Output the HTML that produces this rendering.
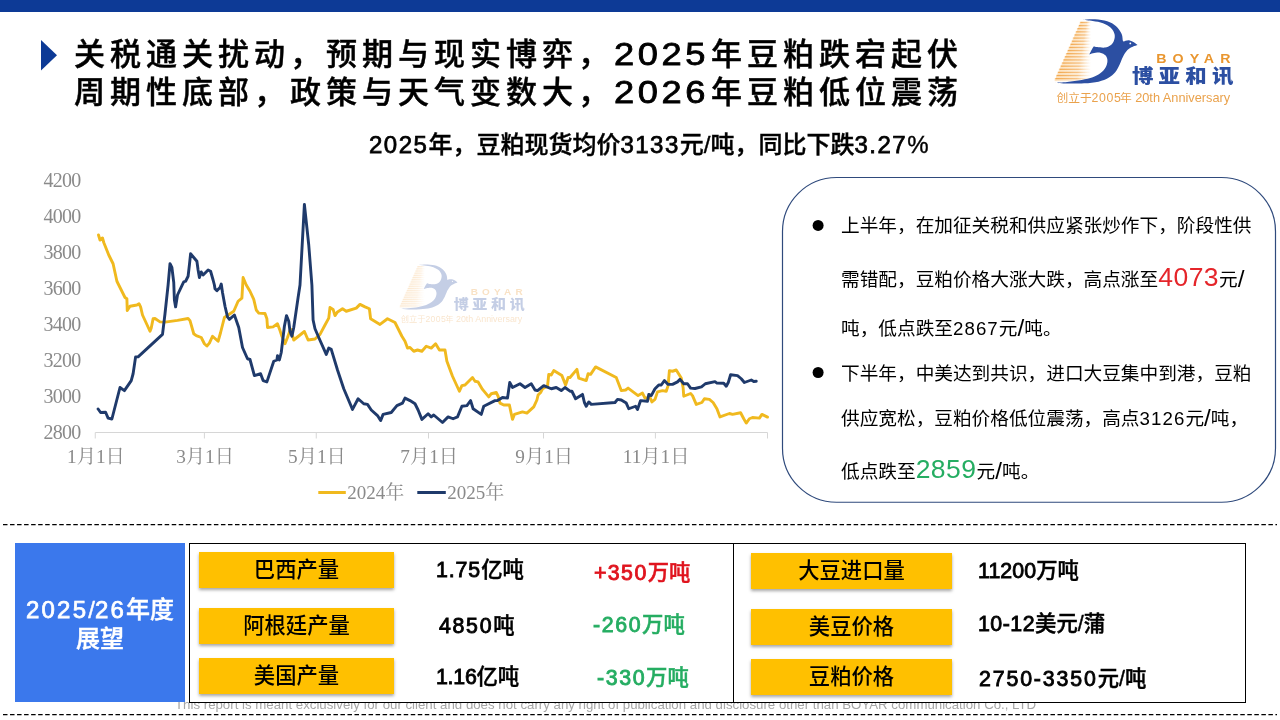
<!DOCTYPE html>
<html lang="zh-CN">
<head>
<meta charset="utf-8">
<title>豆粕</title>
<style>
html,body{margin:0;padding:0;}
body{width:1280px;height:720px;position:relative;overflow:hidden;background:#fff;
 font-family:"Liberation Sans","Noto Sans CJK SC",sans-serif;color:#000;}
.abs{position:absolute;white-space:nowrap;will-change:transform;}
#topbar{left:0;top:0;width:1280px;height:12px;background:#0d3a96;}
.title{left:74px;font-size:31px;font-weight:500;-webkit-text-stroke:.45px #000;letter-spacing:5px;line-height:38px;height:38px;}
.title .n{display:inline-block;transform:scaleX(1.17);transform-origin:0 50%;letter-spacing:3.05px;margin-right:15.8px;-webkit-text-stroke:.8px #000;}
#sub{left:369px;top:128px;font-size:24px;font-weight:500;-webkit-text-stroke:.4px #000;line-height:34px;}
#sub .n{letter-spacing:1.5px;-webkit-text-stroke:.75px #000;}
svg{position:absolute;left:0;top:0;will-change:transform;}
.bt{left:840.8px;font-size:18.67px;line-height:30px;height:30px;}
.bt .n{letter-spacing:1.1px;}
.bt .sl{font-size:1.3em;line-height:0;position:relative;top:1px;}
.bt .big{font-size:26.5px;letter-spacing:.5px;line-height:30px;}
.lab{width:195px;height:36px;background:#ffc000;box-shadow:0 2px 3px rgba(0,0,0,.35);
 text-align:center;font-size:21.33px;font-weight:500;line-height:37px;}
.val{font-size:21.33px;font-weight:500;-webkit-text-stroke:.45px currentColor;line-height:30px;height:30px;}
.val .n{letter-spacing:.9px;-webkit-text-stroke:.85px currentColor;}
#foot{left:175px;top:698px;font-size:13.25px;color:#a6a6a6;line-height:14px;}
#bluebox{left:15px;top:543px;width:170px;height:159px;background:#3b78ec;color:#fff;
 text-align:center;font-size:24px;font-weight:500;line-height:29px;-webkit-text-stroke:.4px #fff;}
#bluebox .n{letter-spacing:2.2px;-webkit-text-stroke:.75px #fff;}
.frame{background:#fff;border:1px solid #000;box-sizing:border-box;}
</style>
</head>
<body>
<div class="abs" id="topbar"></div>
<div class="abs title" style="top:36px">关税通关扰动，预期与现实博弈，<span class="n">2025</span>年豆粕跌宕起伏</div>
<div class="abs title" style="top:74px">周期性底部，政策与天气变数大，<span class="n">2026</span>年豆粕低位震荡</div>
<div class="abs" id="sub"><span class="n">2025</span>年，豆粕现货均价<span class="n">3133</span>元/吨，同比下跌<span class="n">3.27</span>%</div>

<div class="abs" id="foot">This report is meant exclusively for our client and does not carry any right of publication and disclosure other than BOYAR communication Co., LTD</div>
<div class="abs" id="bluebox"><div style="margin-top:52px"><span class="n">2025</span>/<span class="n">26</span>年度<br>展望</div></div>
<div class="abs frame" style="left:189.1px;top:542.8px;width:544.8px;height:160px"></div>
<div class="abs frame" style="left:732.9px;top:542.8px;width:513.35px;height:160px"></div>

<div class="abs lab" style="left:199px;top:552px">巴西产量</div>
<div class="abs lab" style="left:199px;top:608px">阿根廷产量</div>
<div class="abs lab" style="left:199px;top:658px">美国产量</div>
<div class="abs lab" style="left:751px;top:553px;width:201px">大豆进口量</div>
<div class="abs lab" style="left:751px;top:609px;width:201px">美豆价格</div>
<div class="abs lab" style="left:751px;top:659px;width:201px">豆粕价格</div>

<div class="abs val" style="left:436px;top:554.5px"><span class="n">1.75</span>亿吨</div>
<div class="abs val" style="left:439px;top:611px"><span class="n" style="letter-spacing:1.7px">4850</span>吨</div>
<div class="abs val" style="left:436px;top:662px"><span class="n" style="letter-spacing:-.25px">1.16</span>亿吨</div>
<div class="abs val" style="left:593.5px;top:557.5px;color:#e0141e"><span class="n" style="letter-spacing:1.4px">+350</span>万吨</div>
<div class="abs val" style="left:593px;top:609.5px;color:#25ad62"><span class="n" style="letter-spacing:1.6px">-260</span>万吨</div>
<div class="abs val" style="left:596.5px;top:662.5px;color:#25ad62"><span class="n" style="letter-spacing:1.6px">-330</span>万吨</div>
<div class="abs val" style="left:978px;top:556px"><span class="n" style="letter-spacing:.1px">11200</span>万吨</div>
<div class="abs val" style="left:978px;top:608.5px"><span class="n" style="letter-spacing:.5px">10-12</span>美元/蒲</div>
<div class="abs val" style="left:978.5px;top:664px"><span class="n" style="letter-spacing:1.85px">2750-3350</span>元/吨</div>

<div class="abs bt" style="top:211px">上半年，在加征关税和供应紧张炒作下，阶段性供</div>
<div class="abs bt" style="top:262px">需错配，豆粕价格大涨大跌，高点涨至<span class="n big" style="color:#e5252a">4073</span>元<span class="sl">/</span></div>
<div class="abs bt" style="top:313.5px">吨，低点跌至<span class="n">2867</span>元<span class="sl">/</span>吨。</div>
<div class="abs bt" style="top:359px">下半年，中美达到共识，进口大豆集中到港，豆粕</div>
<div class="abs bt" style="top:403.6px">供应宽松，豆粕价格低位震荡，高点<span class="n">3126</span>元<span class="sl">/</span>吨，</div>
<div class="abs bt" style="top:454px">低点跌至<span class="n big" style="color:#25ad62">2859</span>元<span class="sl">/</span>吨。</div>

<svg width="1280" height="720" viewBox="0 0 1280 720">
<polygon points="41,40 57,55.3 41,70.6" fill="#0d3a96"/>
<g stroke="#d6d6d6" stroke-width="1" fill="none">
<path d="M95.25 432.5H767.5"/>
<path d="M95.25 432.5V438.5"/>
<path d="M204.4 432.5V438.5"/>
<path d="M316.25 432.5V438.5"/>
<path d="M428.5 432.5V438.5"/>
<path d="M543.5 432.5V438.5"/>
<path d="M655.4 432.5V438.5"/>
<path d="M767.5 432.5V438.5"/>
</g>
<g font-family="'Liberation Serif','Noto Serif CJK SC',serif" font-size="20" fill="#8a8a8a" letter-spacing="-0.7">
<text x="80.6" y="187.0" text-anchor="end">4200</text>
<text x="80.6" y="223.0" text-anchor="end">4000</text>
<text x="80.6" y="259.0" text-anchor="end">3800</text>
<text x="80.6" y="295.0" text-anchor="end">3600</text>
<text x="80.6" y="331.0" text-anchor="end">3400</text>
<text x="80.6" y="367.0" text-anchor="end">3200</text>
<text x="80.6" y="403.0" text-anchor="end">3000</text>
<text x="80.6" y="439.0" text-anchor="end">2800</text>
</g>
<g font-family="'Liberation Serif','Noto Serif CJK SC',serif" font-size="19.3" fill="#8a8a8a" text-anchor="middle">
<text x="95.95" y="463">1月1日</text>
<text x="205.1" y="463">3月1日</text>
<text x="316.95" y="463">5月1日</text>
<text x="429.2" y="463">7月1日</text>
<text x="544.2" y="463">9月1日</text>
<text x="656.1" y="463">11月1日</text>
</g>
<path d="M318.3 492.5H345.8" stroke="#f0b91e" stroke-width="3"/>
<path d="M417.3 492.5H445.8" stroke="#1f3a6b" stroke-width="3"/>
<g font-family="'Liberation Serif','Noto Serif CJK SC',serif" font-size="19" fill="#8a8a8a">
<text x="347.3" y="498.5">2024年</text><text x="447.3" y="498.5">2025年</text>
</g>
<g transform="translate(-338.7 250.9) scale(0.7)" opacity=".28">
<rect x="1079.7" y="21.80" width="11.3" height="3.15" fill="url(#sg2)"/>
<rect x="1080.4" y="21.80" width="10.6" height="1.35" fill="url(#sg)"/>
<rect x="1078.3" y="24.92" width="12.7" height="3.15" fill="url(#sg2)"/>
<rect x="1079.0" y="24.92" width="12.0" height="1.35" fill="url(#sg)"/>
<rect x="1076.9" y="28.04" width="14.1" height="3.15" fill="url(#sg2)"/>
<rect x="1077.6" y="28.04" width="13.4" height="1.35" fill="url(#sg)"/>
<rect x="1075.5" y="31.16" width="15.5" height="3.15" fill="url(#sg2)"/>
<rect x="1076.2" y="31.16" width="14.8" height="1.35" fill="url(#sg)"/>
<rect x="1074.1" y="34.28" width="16.9" height="3.15" fill="url(#sg2)"/>
<rect x="1074.8" y="34.28" width="16.2" height="1.35" fill="url(#sg)"/>
<rect x="1072.7" y="37.40" width="18.3" height="3.15" fill="url(#sg2)"/>
<rect x="1073.4" y="37.40" width="17.6" height="1.35" fill="url(#sg)"/>
<rect x="1071.4" y="40.52" width="19.6" height="3.15" fill="url(#sg2)"/>
<rect x="1072.1" y="40.52" width="18.9" height="1.35" fill="url(#sg)"/>
<rect x="1070.0" y="43.64" width="21.0" height="3.15" fill="url(#sg2)"/>
<rect x="1070.7" y="43.64" width="20.3" height="1.35" fill="url(#sg)"/>
<rect x="1068.6" y="46.76" width="22.4" height="3.15" fill="url(#sg2)"/>
<rect x="1069.3" y="46.76" width="21.7" height="1.35" fill="url(#sg)"/>
<rect x="1067.2" y="49.88" width="23.8" height="3.15" fill="url(#sg2)"/>
<rect x="1067.9" y="49.88" width="23.1" height="1.35" fill="url(#sg)"/>
<rect x="1065.8" y="53.00" width="25.2" height="3.15" fill="url(#sg2)"/>
<rect x="1066.5" y="53.00" width="24.5" height="1.35" fill="url(#sg)"/>
<rect x="1064.4" y="56.12" width="26.6" height="3.15" fill="url(#sg2)"/>
<rect x="1065.1" y="56.12" width="25.9" height="1.35" fill="url(#sg)"/>
<rect x="1063.0" y="59.24" width="28.0" height="3.15" fill="url(#sg2)"/>
<rect x="1063.7" y="59.24" width="27.3" height="1.35" fill="url(#sg)"/>
<rect x="1061.6" y="62.36" width="29.4" height="3.15" fill="url(#sg2)"/>
<rect x="1062.3" y="62.36" width="28.7" height="1.35" fill="url(#sg)"/>
<rect x="1060.2" y="65.48" width="30.8" height="3.15" fill="url(#sg2)"/>
<rect x="1060.9" y="65.48" width="30.1" height="1.35" fill="url(#sg)"/>
<rect x="1058.8" y="68.60" width="32.2" height="3.15" fill="url(#sg2)"/>
<rect x="1059.5" y="68.60" width="31.5" height="1.35" fill="url(#sg)"/>
<rect x="1057.4" y="71.72" width="33.6" height="3.15" fill="url(#sg2)"/>
<rect x="1058.1" y="71.72" width="32.9" height="1.35" fill="url(#sg)"/>
<rect x="1056.0" y="74.84" width="35.0" height="3.15" fill="url(#sg2)"/>
<rect x="1056.7" y="74.84" width="34.3" height="1.35" fill="url(#sg)"/>
<rect x="1054.7" y="77.96" width="36.3" height="3.15" fill="url(#sg2)"/>
<rect x="1055.4" y="77.96" width="35.6" height="1.35" fill="url(#sg)"/>
<path d="M1082.22 19.78C1084.35 19.70 1090.83 19.07 1095.00 19.33C1099.17 19.59 1103.70 20.19 1107.22 21.33C1110.74 22.48 1113.70 24.11 1116.11 26.22C1118.52 28.33 1120.52 31.52 1121.67 34.00C1122.81 36.48 1122.35 40.00 1123.00 41.11C1123.65 42.22 1124.44 40.78 1125.56 40.67C1126.67 40.56 1128.28 40.19 1129.67 40.44C1131.06 40.70 1132.57 41.44 1133.89 42.22C1135.20 43.00 1136.94 44.63 1137.56 45.11C1136.76 45.39 1134.46 45.96 1132.78 46.78C1131.09 47.59 1129.07 48.35 1127.44 50.00C1125.81 51.65 1124.30 54.26 1123.00 56.67C1121.70 59.07 1120.96 61.85 1119.67 64.44C1118.37 67.04 1117.07 70.00 1115.22 72.22C1113.37 74.44 1111.33 76.20 1108.56 77.78C1105.78 79.35 1102.63 80.74 1098.56 81.67C1094.48 82.59 1089.33 83.02 1084.11 83.33C1078.89 83.65 1072.17 83.67 1067.22 83.56C1062.28 83.44 1056.57 82.81 1054.44 82.67C1056.57 82.54 1062.69 82.33 1067.22 81.89C1071.76 81.44 1077.41 80.76 1081.67 80.00C1085.93 79.24 1089.63 78.48 1092.78 77.33C1095.93 76.19 1098.43 74.74 1100.56 73.11C1102.69 71.48 1104.41 69.59 1105.56 67.56C1106.70 65.52 1107.43 62.89 1107.44 60.89C1107.46 58.89 1106.87 56.93 1105.67 55.56C1104.46 54.19 1102.33 53.06 1100.22 52.67C1098.11 52.28 1094.83 52.91 1093.00 53.22C1091.17 53.54 1089.85 54.33 1089.22 54.56C1089.70 53.61 1091.33 50.28 1092.11 48.89C1092.89 47.50 1093.59 46.67 1093.89 46.22C1094.44 46.37 1095.37 46.89 1097.22 47.11C1099.07 47.33 1102.78 47.85 1105.00 47.56C1107.22 47.26 1109.06 46.52 1110.56 45.33C1112.06 44.15 1113.33 42.30 1114.00 40.44C1114.67 38.59 1115.09 36.33 1114.56 34.22C1114.02 32.11 1112.70 29.61 1110.78 27.78C1108.85 25.94 1106.00 24.33 1103.00 23.22C1100.00 22.11 1096.24 21.69 1092.78 21.11C1089.31 20.54 1083.98 20.00 1082.22 19.78Z" fill="#2c4fa2"/>
<circle cx="1130.3" cy="43.4" r="0.9" fill="#fff"/>
<text transform="translate(1156.2 62.9) scale(1.13 1)" font-family="'Liberation Sans',sans-serif" font-weight="700" font-size="12.6" letter-spacing="5.35" fill="#e9962f">BOYAR</text>
<text transform="translate(1131.9 82.8) scale(1.1 1)" font-family="'Liberation Sans','Noto Sans CJK SC',sans-serif" font-weight="900" font-size="19.5" letter-spacing="4.8" fill="#2c4fa2">博亚和讯</text>
<g font-family="'Liberation Sans','Noto Sans CJK SC',sans-serif" fill="#eaa24c">
<text x="1056.4" y="101.6" font-size="11.75">创立于</text>
<text x="1091.6" y="101.6" font-size="12.3" letter-spacing=".6">2005</text>
<text x="1119.9" y="101.6" font-size="11.75">年</text>
<text x="1135.2" y="101.6" font-size="12.75">20th Anniversary</text>
</g>
</g>
<polyline points="98.5,235 100,240 102.5,238 103.75,242.5 108.75,255 113.1,263.75 115,272.5 116.9,281.25 118.75,285 125,297.5 126.9,298.75 127.25,310.6 130,306.25 136.9,305 139,303.75 140.6,306.9 142.5,315 150,331.25 151.25,328 153.1,318.75 155,318.5 160,321.9 165,322.1 177.5,320.4 188.1,318.5 190,320.6 193.75,333.75 196.25,335.6 201.25,337.5 204.4,343.75 206.9,346 209.4,343.1 212.5,336.25 218.1,341.25 220.6,332.5 224.4,317.5 233.75,311.25 238.1,301.25 241.9,298.1 243.1,277.5 246.25,285 250,291.25 253.75,299.4 256.25,310 258.75,313.1 265,313.5 266.9,318.75 267.5,327.5 273.1,326.9 277.5,323.75 280,330.6 281.9,336.25 285,343.75 287.5,337.5 290.6,329 293.75,340 304.4,331.5 308.1,340 315,339 320,334.4 325,325 328.75,318.1 330,307.5 333.1,309.4 335,315.6 337.5,311.9 342.5,308.75 346.25,311.25 356.25,308.1 360,304.4 365,306.9 369.4,308.75 370.6,318.75 380,324.4 387.5,318.75 395,322.5 401.9,336.25 405,341.25 407.5,348.1 410,347.5 413.75,351.25 417.5,350 421.9,351.25 426.25,346.25 431.25,348.1 435.6,343.75 439.4,350 445,350 446.9,361.25 452.5,376.25 459.4,391.25 461.9,385.6 465,385 472.5,377.5 475,381.25 478.1,381.9 482.5,389.4 488.75,396.9 491.25,393.75 496.25,392.5 498.1,396.25 500,403.1 503.75,405 509.4,405 511.25,413.75 512.5,419.4 514.4,414.4 522.5,411.9 526.9,413.1 533.75,406.9 536.9,400 538.1,395 540.6,392.5 542.5,388.75 547.5,386.25 548.75,374.4 551.25,375 553.75,370.6 561.9,375.6 565.6,385 568.1,377.5 570,377.5 576.9,369.4 578.75,378.1 586.25,380.6 588.1,373.75 590.6,374.4 595.6,366.9 616.25,377.5 621.25,390.6 625.6,390 628.1,388.1 638.1,395.6 642.5,393.1 645,398.1 650,397.5 651.9,401.9 655,399.4 657.5,391.9 662.5,390.6 666.25,391.25 668.1,385.6 669.4,370.6 672.5,371.25 676.25,370 681.25,378.1 683.1,387.5 683.75,396.25 690.6,393.5 692.5,395.6 696.25,404.4 701.9,402.5 704.4,398.75 709.4,399.4 713.1,402.5 716.9,408.75 720,416.9 729.4,413.5 732.5,414.4 740.6,412.75 743.75,418.75 746.25,423.1 749.4,418.75 752.5,417.5 759.4,418.1 761.9,414.4 767.5,417.1" fill="none" stroke="#f0b91e" stroke-width="2.9" stroke-linejoin="round" stroke-linecap="round"/>
<polyline points="98.1,409 100.6,412.5 105.6,412.25 108.1,418.1 111.9,419 120,387.5 124.4,390.6 131.25,380.6 133.1,373.75 135.6,356.9 138.1,356.9 162.5,334.4 165,313.75 168.1,285 170,263.75 171.9,267.5 173.75,282.5 174.4,300 175.6,306.9 177.5,295 182.5,284.4 183.75,281.9 185.6,281.25 188.1,276.25 189.4,265 190.6,253.75 193.75,257.5 196.9,261.25 198.1,270 199.4,277.5 201.25,271.9 203.1,275 208.1,270 210.6,271.25 213.1,280 214.4,285 215,288.75 216.9,290.6 220,287.5 221.25,284 222.5,292.5 225,306.25 227.5,316.9 229.4,319.4 234.4,315 238.75,327.5 242.5,347.5 247.5,358.75 250,359.5 254.4,375.6 260.6,373.75 263.1,380.6 266.9,381.9 273.75,361.25 276.9,360 277.5,355.6 279.4,360 281.25,352.5 284.4,326.25 286.5,315.6 288.75,321.25 290,331.25 291.9,336.25 293.75,327.5 298.1,297.5 300,285 304.4,204.4 308.75,245 311.9,285 313.1,320 315,328.75 318.75,337.5 326.25,354.4 328.75,348.1 331.25,349.4 337.5,370 343.75,388.75 352.5,409.4 358.1,398.75 363.75,403.75 367.5,404.4 371.25,410 377.5,415.6 380.6,420.6 383.1,414.4 391.25,412.5 396.9,405.6 402.5,403.1 405,398.1 410,400.6 415,403.75 418.1,410 421.9,419.4 428.1,413.75 431.25,416.9 433.75,415 442.5,422.5 448.1,416.9 453.1,418.75 457.5,416.9 461.9,406.25 466.9,405.6 470.6,400.6 473.1,408.75 481.25,414.4 483.75,406.25 495,400.6 497.5,400.6 502.5,397.5 507.5,398.1 509.75,382.5 512.5,387.5 520,383.75 525,387.5 531.25,383.75 535,390 537.5,390.6 543.75,385.6 551.25,388.75 556.25,387.5 561.25,390.6 565,387.5 570,391.2 571.9,391.25 575.6,398.75 582.5,394.4 584.4,402.5 586.25,406.25 588.75,401.9 591.25,404.4 615,402.5 617.5,399.4 621.25,400 626.25,403.1 628.75,408.75 635.6,406.25 637.5,409.4 640.6,400.6 647.5,401.25 648.75,394.4 651.25,395.6 655,388.75 658.75,385 661.25,385 664.4,380.6 668.1,384.4 672.5,384.4 677.5,381.9 680,379.4 683.75,383.75 687.5,383.75 690.6,388.1 695,388.5 701.5,386.9 705.3,383.75 715,381.7 716.9,383.1 723.75,383.3 726.25,386.25 728.4,382.2 730.6,374.75 737.5,375.6 741.25,378.75 744.4,382.5 751.25,380 753.75,381.5 756.25,381.25" fill="none" stroke="#1f3a6b" stroke-width="2.9" stroke-linejoin="round" stroke-linecap="round"/>
<rect x="782.5" y="177.5" width="493" height="324.75" rx="54" ry="54" fill="none" stroke="#2f4a7c" stroke-width="1.2"/>
<circle cx="818.1" cy="225.4" r="5.5" fill="#000"/><circle cx="818.1" cy="372.5" r="5.5" fill="#000"/>
<path d="M3 524.5H1277" stroke="#000" stroke-width="1.25" stroke-dasharray="4.5 2.53"/>
<path d="M3 714.5H1277" stroke="#000" stroke-width="1.25" stroke-dasharray="4.5 2.53"/>
<defs><linearGradient id="sg"><stop offset="0" stop-color="#f2aa52"/><stop offset=".6" stop-color="#f4b46a" stop-opacity=".75"/><stop offset="1" stop-color="#f8c88c" stop-opacity="0"/></linearGradient><linearGradient id="sg2"><stop offset="0" stop-color="#fde3c0"/><stop offset=".6" stop-color="#fdebd2" stop-opacity=".8"/><stop offset="1" stop-color="#fff" stop-opacity="0"/></linearGradient></defs>
<g id="boyarlogo">
<rect x="1079.7" y="21.80" width="11.3" height="3.15" fill="url(#sg2)"/>
<rect x="1080.4" y="21.80" width="10.6" height="1.35" fill="url(#sg)"/>
<rect x="1078.3" y="24.92" width="12.7" height="3.15" fill="url(#sg2)"/>
<rect x="1079.0" y="24.92" width="12.0" height="1.35" fill="url(#sg)"/>
<rect x="1076.9" y="28.04" width="14.1" height="3.15" fill="url(#sg2)"/>
<rect x="1077.6" y="28.04" width="13.4" height="1.35" fill="url(#sg)"/>
<rect x="1075.5" y="31.16" width="15.5" height="3.15" fill="url(#sg2)"/>
<rect x="1076.2" y="31.16" width="14.8" height="1.35" fill="url(#sg)"/>
<rect x="1074.1" y="34.28" width="16.9" height="3.15" fill="url(#sg2)"/>
<rect x="1074.8" y="34.28" width="16.2" height="1.35" fill="url(#sg)"/>
<rect x="1072.7" y="37.40" width="18.3" height="3.15" fill="url(#sg2)"/>
<rect x="1073.4" y="37.40" width="17.6" height="1.35" fill="url(#sg)"/>
<rect x="1071.4" y="40.52" width="19.6" height="3.15" fill="url(#sg2)"/>
<rect x="1072.1" y="40.52" width="18.9" height="1.35" fill="url(#sg)"/>
<rect x="1070.0" y="43.64" width="21.0" height="3.15" fill="url(#sg2)"/>
<rect x="1070.7" y="43.64" width="20.3" height="1.35" fill="url(#sg)"/>
<rect x="1068.6" y="46.76" width="22.4" height="3.15" fill="url(#sg2)"/>
<rect x="1069.3" y="46.76" width="21.7" height="1.35" fill="url(#sg)"/>
<rect x="1067.2" y="49.88" width="23.8" height="3.15" fill="url(#sg2)"/>
<rect x="1067.9" y="49.88" width="23.1" height="1.35" fill="url(#sg)"/>
<rect x="1065.8" y="53.00" width="25.2" height="3.15" fill="url(#sg2)"/>
<rect x="1066.5" y="53.00" width="24.5" height="1.35" fill="url(#sg)"/>
<rect x="1064.4" y="56.12" width="26.6" height="3.15" fill="url(#sg2)"/>
<rect x="1065.1" y="56.12" width="25.9" height="1.35" fill="url(#sg)"/>
<rect x="1063.0" y="59.24" width="28.0" height="3.15" fill="url(#sg2)"/>
<rect x="1063.7" y="59.24" width="27.3" height="1.35" fill="url(#sg)"/>
<rect x="1061.6" y="62.36" width="29.4" height="3.15" fill="url(#sg2)"/>
<rect x="1062.3" y="62.36" width="28.7" height="1.35" fill="url(#sg)"/>
<rect x="1060.2" y="65.48" width="30.8" height="3.15" fill="url(#sg2)"/>
<rect x="1060.9" y="65.48" width="30.1" height="1.35" fill="url(#sg)"/>
<rect x="1058.8" y="68.60" width="32.2" height="3.15" fill="url(#sg2)"/>
<rect x="1059.5" y="68.60" width="31.5" height="1.35" fill="url(#sg)"/>
<rect x="1057.4" y="71.72" width="33.6" height="3.15" fill="url(#sg2)"/>
<rect x="1058.1" y="71.72" width="32.9" height="1.35" fill="url(#sg)"/>
<rect x="1056.0" y="74.84" width="35.0" height="3.15" fill="url(#sg2)"/>
<rect x="1056.7" y="74.84" width="34.3" height="1.35" fill="url(#sg)"/>
<rect x="1054.7" y="77.96" width="36.3" height="3.15" fill="url(#sg2)"/>
<rect x="1055.4" y="77.96" width="35.6" height="1.35" fill="url(#sg)"/>
<path d="M1082.22 19.78C1084.35 19.70 1090.83 19.07 1095.00 19.33C1099.17 19.59 1103.70 20.19 1107.22 21.33C1110.74 22.48 1113.70 24.11 1116.11 26.22C1118.52 28.33 1120.52 31.52 1121.67 34.00C1122.81 36.48 1122.35 40.00 1123.00 41.11C1123.65 42.22 1124.44 40.78 1125.56 40.67C1126.67 40.56 1128.28 40.19 1129.67 40.44C1131.06 40.70 1132.57 41.44 1133.89 42.22C1135.20 43.00 1136.94 44.63 1137.56 45.11C1136.76 45.39 1134.46 45.96 1132.78 46.78C1131.09 47.59 1129.07 48.35 1127.44 50.00C1125.81 51.65 1124.30 54.26 1123.00 56.67C1121.70 59.07 1120.96 61.85 1119.67 64.44C1118.37 67.04 1117.07 70.00 1115.22 72.22C1113.37 74.44 1111.33 76.20 1108.56 77.78C1105.78 79.35 1102.63 80.74 1098.56 81.67C1094.48 82.59 1089.33 83.02 1084.11 83.33C1078.89 83.65 1072.17 83.67 1067.22 83.56C1062.28 83.44 1056.57 82.81 1054.44 82.67C1056.57 82.54 1062.69 82.33 1067.22 81.89C1071.76 81.44 1077.41 80.76 1081.67 80.00C1085.93 79.24 1089.63 78.48 1092.78 77.33C1095.93 76.19 1098.43 74.74 1100.56 73.11C1102.69 71.48 1104.41 69.59 1105.56 67.56C1106.70 65.52 1107.43 62.89 1107.44 60.89C1107.46 58.89 1106.87 56.93 1105.67 55.56C1104.46 54.19 1102.33 53.06 1100.22 52.67C1098.11 52.28 1094.83 52.91 1093.00 53.22C1091.17 53.54 1089.85 54.33 1089.22 54.56C1089.70 53.61 1091.33 50.28 1092.11 48.89C1092.89 47.50 1093.59 46.67 1093.89 46.22C1094.44 46.37 1095.37 46.89 1097.22 47.11C1099.07 47.33 1102.78 47.85 1105.00 47.56C1107.22 47.26 1109.06 46.52 1110.56 45.33C1112.06 44.15 1113.33 42.30 1114.00 40.44C1114.67 38.59 1115.09 36.33 1114.56 34.22C1114.02 32.11 1112.70 29.61 1110.78 27.78C1108.85 25.94 1106.00 24.33 1103.00 23.22C1100.00 22.11 1096.24 21.69 1092.78 21.11C1089.31 20.54 1083.98 20.00 1082.22 19.78Z" fill="#2c4fa2"/>
<circle cx="1130.3" cy="43.4" r="0.9" fill="#fff"/>
<text transform="translate(1156.2 62.9) scale(1.13 1)" font-family="'Liberation Sans',sans-serif" font-weight="700" font-size="12.6" letter-spacing="5.35" fill="#e9962f">BOYAR</text>
<text transform="translate(1131.9 82.8) scale(1.1 1)" font-family="'Liberation Sans','Noto Sans CJK SC',sans-serif" font-weight="900" font-size="19.5" letter-spacing="4.8" fill="#2c4fa2">博亚和讯</text>
<g font-family="'Liberation Sans','Noto Sans CJK SC',sans-serif" fill="#eaa24c">
<text x="1056.4" y="101.6" font-size="11.75">创立于</text>
<text x="1091.6" y="101.6" font-size="12.3" letter-spacing=".6">2005</text>
<text x="1119.9" y="101.6" font-size="11.75">年</text>
<text x="1135.2" y="101.6" font-size="12.75">20th Anniversary</text>
</g>
</g>
</svg>
</body>
</html>
